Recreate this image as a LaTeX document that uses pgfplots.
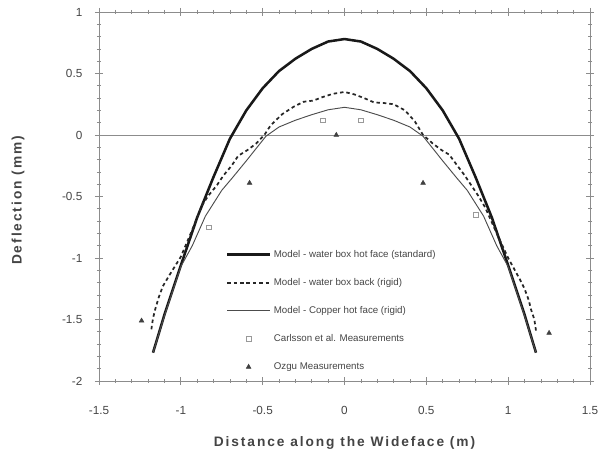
\documentclass[border=0pt]{standalone}
\usepackage{pgfplots}
\pgfplotsset{compat=1.18}
\usepackage{fontspec}
\setmainfont{Liberation Sans}
\newfontfamily\lblfont{Liberation Sans}[LetterSpace=14]
\definecolor{axgray}{HTML}{8C8C8C}
\definecolor{txtgray}{HTML}{444444}
\pgfplotsset{
  lineleg/.style={legend image code/.code={\draw[##1] (0pt,0pt) -- (32pt,0pt);}},
  markleg/.style={legend image code/.code={\draw[##1] plot coordinates {(16pt,0pt)};}},
}
\begin{document}
\begin{tikzpicture}
\begin{axis}[
  width=368.25pt, height=276.75pt, scale only axis,
  xmin=-1.5, xmax=1.5, ymin=-2, ymax=1,
  xtick={-1.5,-1,-0.5,0,0.5,1,1.5},
  xticklabels={-1.5,-1,-0.5,0,0.5,1,1.5},
  ytick={-2,-1.5,-1,-0.5,0,0.5,1},
  yticklabels={-2,-1.5,-1,-0.5,0,0.5,1},
  minor x tick num=4, minor y tick num=4,
  tick align=center,
  major tick length=6pt, minor tick length=3pt,
  every tick/.style={axgray, line width=0.5pt},
  axis line style={axgray, line width=0.6pt},
  ticklabel style={font=\fontsize{8.8}{10}\selectfont, text=txtgray},
  xticklabel style={yshift=-12.5pt},
  yticklabel style={xshift=-6pt},
  xlabel={\lblfont\bfseries Distance along the Wideface (m)},
  ylabel={\lblfont\bfseries Deflection (mm)},
  xlabel style={at={(axis description cs:0.5,0)}, anchor=center, yshift=-46.5pt, font=\fontsize{10.3}{12}\selectfont, text=txtgray},
  ylabel style={at={(axis description cs:0,0.5)}, anchor=center, yshift=60.75pt, xshift=-3pt, font=\fontsize{10.3}{12}\selectfont, text=txtgray},
  legend style={draw=none, fill=none, at={(axis cs:-0.75,-0.89)}, anchor=north west,
    font=\fontsize{7.3}{8.5}\selectfont, text=txtgray, row sep=10.3pt,
    /tikz/every even column/.append style={column sep=2pt}},
  legend cell align=left,
]
\coordinate (ll) at (rel axis cs:0,0);
\coordinate (ur) at (rel axis cs:1,1);
\addplot[forget plot, axgray, line width=0.5pt] coordinates {(-1.5,0) (1.5,0)};
% thick: water box hot face (standard)
\addplot[black!90, line width=1.9pt, lineleg] coordinates {
(-1.17,-1.77)(-1.1,-1.46)(-1.0,-1.06)(-0.9,-0.67)(-0.8,-0.34)(-0.7,-0.03)(-0.6,0.20)(-0.5,0.38)(-0.4,0.52)(-0.3,0.62)(-0.2,0.70)(-0.1,0.76)(0,0.78)(0.1,0.76)(0.2,0.70)(0.3,0.62)(0.4,0.52)(0.5,0.38)(0.6,0.20)(0.7,-0.03)(0.8,-0.34)(0.9,-0.67)(1.0,-1.06)(1.1,-1.46)(1.17,-1.77)};
\addlegendentry{Model - water box hot face (standard)}
% dashed: water box back (rigid)
\addplot[black!85, line width=1.3pt, dash pattern=on 2.6pt off 2.2pt, lineleg] coordinates {
(-1.18,-1.58)(-1.17,-1.49)(-1.155,-1.41)(-1.135,-1.32)(-1.11,-1.23)(-1.07,-1.14)(-1.0,-0.99)(-0.93,-0.77)(-0.87,-0.57)(-0.83,-0.49)(-0.78,-0.41)(-0.74,-0.33)(-0.69,-0.25)(-0.65,-0.17)(-0.59,-0.12)(-0.54,-0.07)(-0.49,0.0)(-0.45,0.08)(-0.38,0.17)(-0.31,0.23)(-0.25,0.27)(-0.19,0.28)(-0.13,0.31)(-0.07,0.335)(0,0.35)(0.06,0.33)(0.12,0.30)(0.18,0.265)(0.24,0.26)(0.30,0.25)(0.37,0.20)(0.43,0.11)(0.48,0.0)(0.54,-0.07)(0.59,-0.12)(0.64,-0.16)(0.69,-0.25)(0.735,-0.33)(0.775,-0.41)(0.82,-0.50)(0.86,-0.59)(0.93,-0.80)(1.0,-1.0)(1.07,-1.17)(1.10,-1.25)(1.125,-1.34)(1.14,-1.42)(1.16,-1.50)(1.17,-1.59)};
\addlegendentry{Model - water box back (rigid)}
% thin: copper hot face (rigid)
\addplot[black!70, line width=0.7pt, lineleg] coordinates {
(-1.17,-1.77)(-1.1,-1.47)(-1.0,-1.07)(-0.93,-0.90)(-0.85,-0.66)(-0.75,-0.45)(-0.68,-0.34)(-0.6,-0.21)(-0.54,-0.11)(-0.48,-0.01)(-0.4,0.065)(-0.3,0.12)(-0.2,0.165)(-0.1,0.205)(0,0.225)(0.1,0.205)(0.2,0.165)(0.3,0.12)(0.4,0.065)(0.48,-0.01)(0.54,-0.11)(0.6,-0.21)(0.68,-0.34)(0.75,-0.45)(0.85,-0.66)(0.93,-0.90)(1.0,-1.07)(1.1,-1.47)(1.17,-1.77)};
\addlegendentry{Model - Copper hot face (rigid)}
% Carlsson et al.
\addplot[only marks, mark=square, mark size=1.8pt, black!40, mark options={line width=0.5pt}, markleg] coordinates {
(-0.83,-0.75)(-0.13,0.12)(0.10,0.12)(0.80,-0.65)};
\addlegendentry{Carlsson et al. Measurements}
% Ozgu
\addplot[only marks, mark=triangle*, mark size=2pt, black!75, markleg] coordinates {
(-1.24,-1.51)(-0.58,-0.39)(-0.05,0.0)(0.48,-0.39)(1.25,-1.61)};
\addlegendentry{Ozgu Measurements}
\end{axis}
\pgfresetboundingbox
\path[use as bounding box] ([xshift=-74.25pt,yshift=-55.5pt]ll) rectangle ([xshift=7.5pt,yshift=9pt]ur);
\end{tikzpicture}
\end{document}
